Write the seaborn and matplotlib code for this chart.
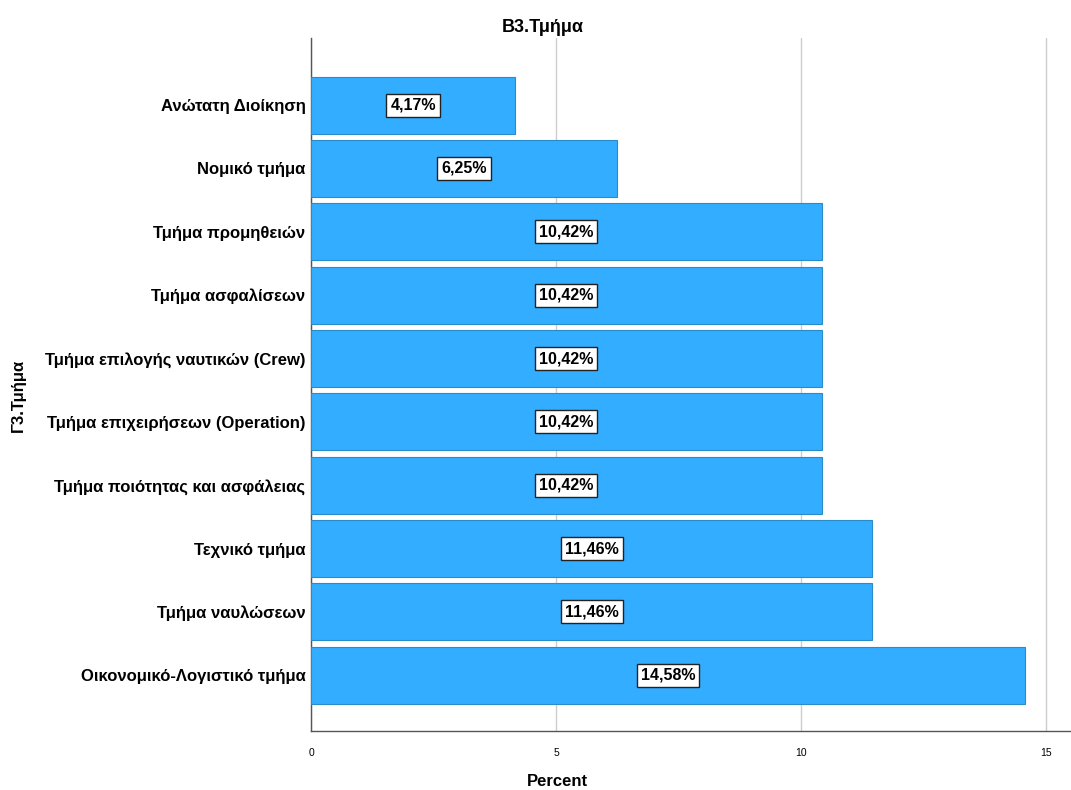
import matplotlib
matplotlib.use("Agg")
import matplotlib.pyplot as plt
import seaborn as sns
import pandas as pd

departments = [
    "Ανώτατη Διοίκηση",
    "Νομικό τμήμα",
    "Τμήμα προμηθειών",
    "Τμήμα ασφαλίσεων",
    "Τμήμα επιλογής ναυτικών (Crew)",
    "Τμήμα επιχειρήσεων (Operation)",
    "Τμήμα ποιότητας και ασφάλειας",
    "Τεχνικό τμήμα",
    "Τμήμα ναυλώσεων",
    "Οικονομικό-Λογιστικό τμήμα",
]
percent = [4.17, 6.25, 10.42, 10.42, 10.42, 10.42, 10.42, 11.46, 11.46, 14.58]
x_ticks = [0, 5, 10, 15]

sns.set_theme(style="white")
plt.rcParams["font.family"] = ["Liberation Sans", "DejaVu Sans"]
plt.rcParams["text.color"] = "black"
plt.rcParams["xtick.color"] = "black"
plt.rcParams["ytick.color"] = "black"

df = pd.DataFrame({"dept": departments, "pct": percent})

fig = plt.figure(figsize=(10.71, 7.9), dpi=100)
ax = fig.add_axes([0.2904, 0.0747, 0.7086, 0.8772])

sns.barplot(data=df, x="pct", y="dept", orient="h", ax=ax,
            color="#33adff", saturation=1, width=0.9,
            edgecolor="#2a8bc9", linewidth=0.8, zorder=3)

# value labels in white boxes at the middle of each bar
for i, v in enumerate(df["pct"]):
    label = f"{v:.2f}".replace(".", ",") + "%"
    ax.text(v / 2, i, label, ha="center", va="center", fontsize=11.5,
            fontweight="bold", color="black", zorder=5,
            bbox=dict(boxstyle="square,pad=0.25", facecolor="white",
                      edgecolor="#222222", linewidth=1.0))

ax.set_xlim(0, 15.49)
ax.set_ylim(9.88, -1.06)
ax.set_xticks(x_ticks)
ax.set_xticklabels([str(t) for t in x_ticks], fontsize=7.5)
ax.tick_params(axis="x", length=0, pad=12)
ax.tick_params(axis="y", length=0, pad=4)
for lab in ax.get_yticklabels():
    lab.set_fontsize(12)
    lab.set_fontweight("bold")
ax.xaxis.grid(True, color="#cccccc", linewidth=1, zorder=0)
ax.yaxis.grid(False)

for s in ["top", "right"]:
    ax.spines[s].set_visible(False)
for s in ["left", "bottom"]:
    ax.spines[s].set_visible(True)
    ax.spines[s].set_color("#555555")
    ax.spines[s].set_linewidth(1)

ax.set_xlabel("")
ax.set_ylabel("")
fig.text(557 / 1071, 1 - 781 / 790, "Percent", ha="center", va="center",
         fontsize=12, fontweight="bold")
fig.text(18 / 1071, 1 - 395 / 790, "Γ3.Τμήμα", ha="center", va="center",
         rotation=90, fontsize=12, fontweight="bold")
fig.text(543 / 1071, 1 - 27 / 790, "Β3.Τμήμα", ha="center", va="center",
         fontsize=13, fontweight="bold")

fig.savefig("out.png", dpi=100)
